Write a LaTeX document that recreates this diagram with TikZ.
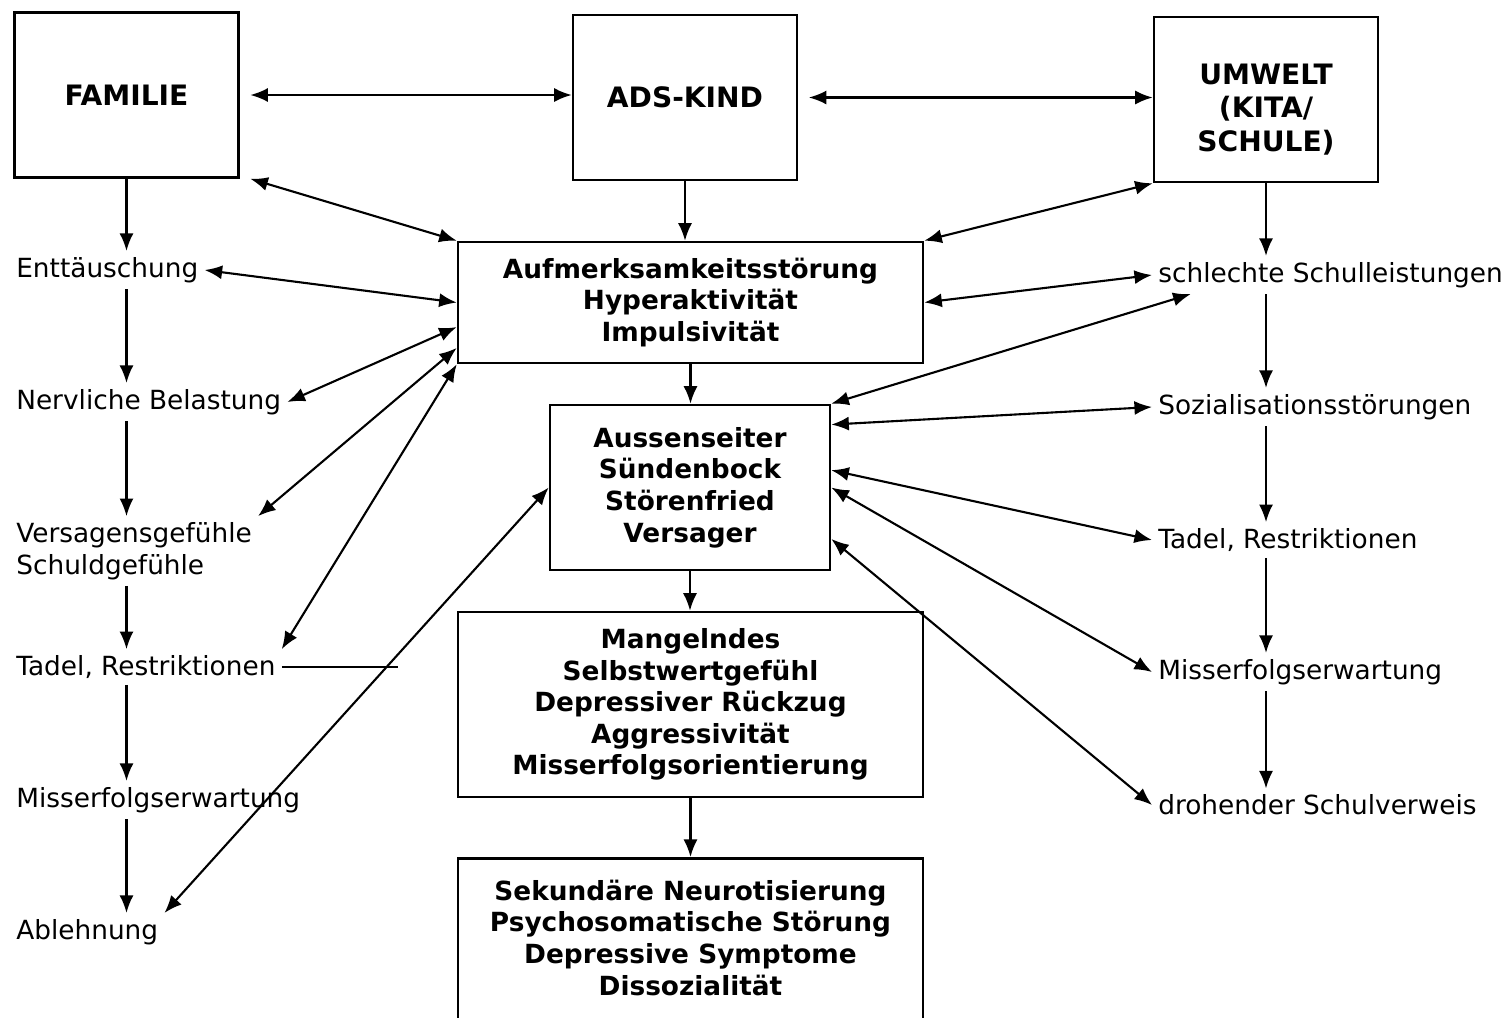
\documentclass[tikz,border=0pt]{standalone}
\usepackage{fontspec}
\setmainfont{DejaVu Sans}
\usetikzlibrary{arrows.meta}

\begin{document}
\begin{tikzpicture}[x=0.02cm, y=-0.02cm, >={Latex[length=10pt,width=8pt]}, line width=1.2pt]

  % Define styles for boxes and labels
  \tikzstyle{box} = [rectangle, draw, line width=1.5pt, align=center, font=\bfseries\fontsize{15}{18}\selectfont]
  \tikzstyle{topbox} = [box, minimum width=4.48cm, minimum height=3.3cm, font=\bfseries\fontsize{16}{19}\selectfont]
  \tikzstyle{lab} = [anchor=west, align=left, inner sep=3pt, font=\fontsize{15}{18}\selectfont]
  \tikzstyle{both} = [<->]

  \useasboundingbox (0,0) rectangle (1512,1018);

  % Top row
  \node[topbox] (familie) at (126.5,95) {FAMILIE};
  \node[topbox] (ads) at (685,97.5) {ADS-KIND};
  \node[topbox] (umwelt) at (1266,99.5) {\rule{0pt}{23pt}UMWELT\\(KITA/\\SCHULE)};

  % Middle column
  \node[box, minimum width=9.3cm, minimum height=2.42cm] (aufm) at (690.5,302.5) {Aufmerksamkeitsstörung\\Hyperaktivität\\Impulsivität};
  \node[box, minimum width=5.6cm, minimum height=3.3cm] (auss) at (690,487.5) {Aussenseiter\\Sündenbock\\Störenfried\\Versager};
  \node[box, minimum width=9.3cm, minimum height=3.7cm] (mang) at (690.5,704.5) {Mangelndes\\Selbstwertgefühl\\Depressiver Rückzug\\Aggressivität\\Misserfolgsorientierung};
  \node[box, anchor=north, minimum width=9.3cm, minimum height=3.8cm] (sek) at (690.5,857) {Sekundäre Neurotisierung\\Psychosomatische Störung\\Depressive Symptome\\Dissozialität\\\mbox{}};

  % Family side
  \node[lab] (entt) at (10,270) {Enttäuschung};
  \node[lab] (nerv) at (10,402) {Nervliche Belastung};
  \node[lab] (versag) at (10,551) {Versagensgefühle\\Schuldgefühle};
  \node[lab] (tadell) at (10,667) {Tadel, Restriktionen};
  \node[lab] (misl) at (10,800) {Misserfolgserwartung};
  \node[lab] (abl) at (10,932) {Ablehnung};

  % School side
  \node[lab] (schlecht) at (1152,275) {schlechte Schulleistungen};
  \node[lab] (sozial) at (1152,407) {Sozialisationsstörungen};
  \node[lab] (tadelr) at (1152,540) {Tadel, Restriktionen};
  \node[lab] (misr) at (1152,672) {Misserfolgserwartung};
  \node[lab] (droh) at (1152,805) {drohender Schulverweis};

  % Top arrows
  \draw[both, shorten <=6pt] (familie.east) -- (familie.east -| ads.west);
  \draw[both, shorten <=6pt] (ads.east) -- (ads.east -| umwelt.west);

  % Down the middle
  \draw[->] (ads.south) -- (ads.south |- aufm.north);
  \draw[->] (aufm.south) -- (aufm.south |- auss.north);
  \draw[->] (auss.south) -- (auss.south |- mang.north);
  \draw[->] (mang.south) -- (sek.north);

  % Family chain
  \draw[->] (familie.south) -- (familie.south |- entt.north);
  \draw[->] (familie.south |- entt.south) -- (familie.south |- nerv.north);
  \draw[->] (familie.south |- nerv.south) -- (familie.south |- versag.north);
  \draw[->] (familie.south |- versag.south) -- (familie.south |- tadell.north);
  \draw[->] (familie.south |- tadell.south) -- (familie.south |- misl.north);
  \draw[->] (familie.south |- misl.south) -- (familie.south |- abl.north);

  % School chain
  \draw[->] (umwelt.south) -- (umwelt.south |- schlecht.north);
  \draw[->] (umwelt.south |- schlecht.south) -- (umwelt.south |- sozial.north);
  \draw[->] (umwelt.south |- sozial.south) -- (umwelt.south |- tadelr.north);
  \draw[->] (umwelt.south |- tadelr.south) -- (umwelt.south |- misr.north);
  \draw[->] (umwelt.south |- misr.south) -- (umwelt.south |- droh.north);

  % Left cross links
  \draw[both] ([xshift=6pt]familie.south east) -- (aufm.north west);
  \draw[both] (entt.east) -- (aufm.west);
  \draw[both] (nerv.east) -- (aufm.186);
  \draw[both] (versag.north east) -- (aufm.191);
  \draw[both] (tadell.north east) -- (aufm.south west);
  \draw[both] (abl.north east) -- (auss.west);
  \coordinate (tadelend) at (398,667);
  \draw[line width=0.6pt] (tadell.east) -- (tadell.east -| tadelend);

  % Right cross links
  \draw[both] (umwelt.south west) -- (aufm.north east);
  \draw[both] (aufm.east) -- (schlecht.west);
  \draw[both] (auss.north east) -- ([xshift=22pt]schlecht.south west);
  \draw[both] (auss.24) -- (sozial.west);
  \draw[both] (auss.7) -- (tadelr.west);
  \draw[both] (auss.east) -- (misr.west);
  \draw[both] (auss.340) -- (droh.west);

\end{tikzpicture}
\end{document}
